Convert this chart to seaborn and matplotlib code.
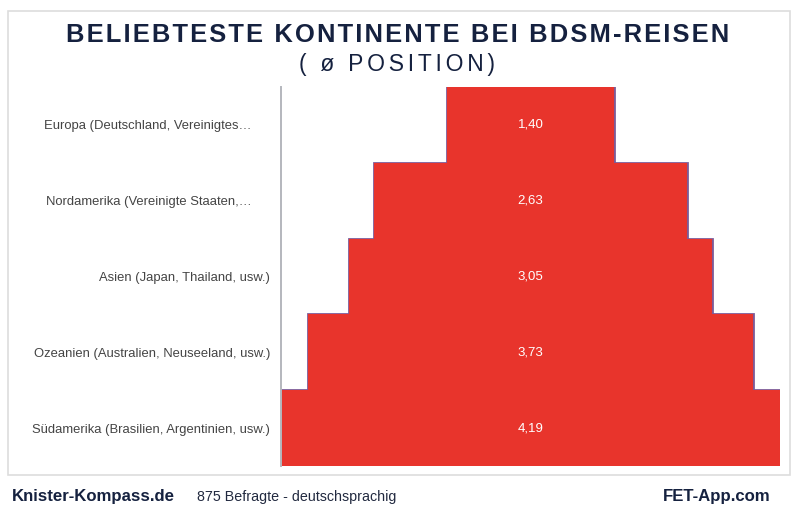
import numpy as np
import pandas as pd
import matplotlib
matplotlib.use('Agg')
import matplotlib.pyplot as plt
from matplotlib.patches import Rectangle
import seaborn as sns

categories = [
    'Europa (Deutschland, Vereinigtes…',
    'Nordamerika (Vereinigte Staaten,…',
    'Asien (Japan, Thailand, usw.)',
    'Ozeanien (Australien, Neuseeland, usw.)',
    'Südamerika (Brasilien, Argentinien, usw.)',
]
values = [1.40, 2.63, 3.05, 3.73, 4.19]
value_labels = ['1,40', '2,63', '3,05', '3,73', '4,19']

NAVY = '#15213f'
W, H = 800, 518

sns.set_theme(style='white')
plt.rcParams['font.family'] = ['Liberation Sans', 'DejaVu Sans']

df = pd.DataFrame({'kontinent': categories, 'position': values})
# centred bars, so each one starts at minus half its width
lefts = -df['position'].to_numpy() / 2

fig = plt.figure(figsize=(8, 5.18), dpi=100, facecolor='white')
ax = fig.add_axes([281 / W, 1 - 466 / H, (780 - 281) / W, (466 - 87) / H])

# outline pass first, the fill on top hides the lines between the bars
sns.barplot(data=df, x='position', y='kontinent', orient='y', left=lefts, width=1.0,
            color='#7d5a96', saturation=1, edgecolor='#7d5a96', linewidth=2.0, ax=ax)
sns.barplot(data=df, x='position', y='kontinent', orient='y', left=lefts, width=1.0,
            color='#e8342c', saturation=1, linewidth=0, ax=ax)

ax.set_xlim(lefts.min(), -lefts.min())
ax.set_ylim(4.5, -0.5)
ax.set_xlabel('')
ax.set_ylabel('')
ax.set_xticks([])
ax.tick_params(axis='y', length=0, labelsize=9.4, labelcolor='#444444')

# the two cut off labels end further left
ticks = ax.yaxis.get_major_ticks()
for i, tick in enumerate(ticks):
    tick.set_pad(20.9 if i < 2 else 7.9)

sns.despine(ax=ax, top=True, right=True, bottom=True)
ax.spines['left'].set_color('#b4b7bd')
ax.spines['left'].set_linewidth(1.4)

ax.bar_label(ax.containers[-1], labels=value_labels, label_type='center',
             color='white', fontsize=9.5)

# outer frame
fig.add_artist(Rectangle((8 / W, 1 - 475 / H), 782 / W, 464 / H, transform=fig.transFigure,
                         facecolor='none', edgecolor='#dddddd', linewidth=1.2))

# title with wide letter spacing
hair = '\u200a'
title = 'BELIEBTESTE KONTINENTE BEI BDSM-REISEN'
sub = '( ø POSITION)'
fig.text(398 / W, 1 - 35 / H, hair.join(title), ha='center', va='center',
         fontsize=18.4, fontweight='bold', color=NAVY)
fig.text(397 / W, 1 - 65 / H, (hair * 2).join(sub), ha='center', va='center',
         fontsize=16.5, color=NAVY)

# footer
fig.text(12 / W, 1 - 497 / H, 'Knister-Kompass.de', ha='left', va='center',
         fontsize=12.1, fontweight='bold', color=NAVY)
fig.text(197 / W, 1 - 497 / H, '875 Befragte - deutschsprachig', ha='left', va='center',
         fontsize=10.3, color='#222a40')
fig.text(771 / W, 1 - 497 / H, 'FET-App.com', ha='right', va='center',
         fontsize=12.1, fontweight='bold', color=NAVY)

fig.savefig('out.png', dpi=100)
